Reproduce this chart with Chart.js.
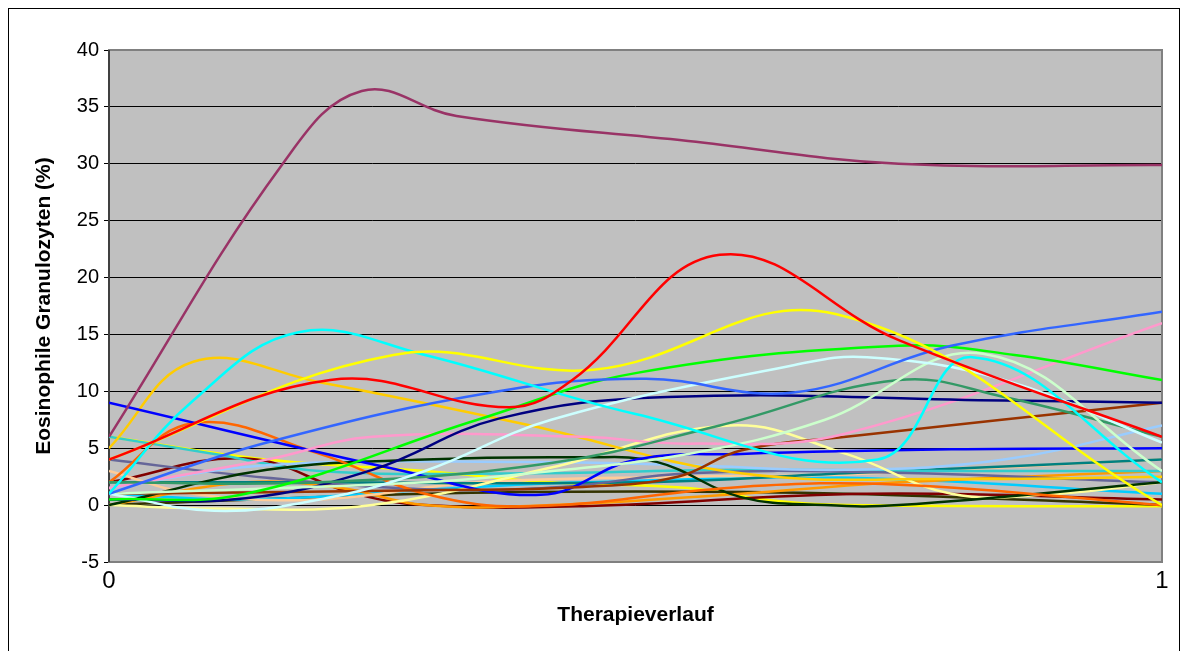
<!DOCTYPE html>
<html lang="de">
<head>
  <meta charset="UTF-8">
  <title>Eosinophile Granulozyten</title>
  <script src="https://cdn.jsdelivr.net/npm/chart.js"></script>
  <style>
    body { margin: 0; background: #fff; }
    canvas { display: block; }
  </style>
</head>
<body>
  <canvas id="eoChart" width="1188" height="651"></canvas>

  <script>
    // axis
    const xTicks = [0, 1];
    const yMin = -5, yMax = 40, yStep = 5;

    // series: relative therapy position (x) and eosinophils in % (y)
    const purpleX = [0, 0.165, 0.24, 0.33, 0.55, 0.75, 1];
    const purpleY = [6, 30, 36.4, 34.2, 32, 30, 29.9];
    const redX = [0, 0.21, 0.38, 0.44, 0.58, 0.75, 1];
    const redY = [4, 11, 8.6, 11, 22, 14.5, 6];
    const yellowX = [0, 0.27, 0.46, 0.69, 1];
    const yellowY = [4, 13.2, 11.9, 16.8, 0];
    const cyanX = [0, 0.08, 0.18, 0.3, 0.5, 0.73, 0.82, 1];
    const cyanY = [1, 9.2, 15.2, 13.2, 8, 4, 13, 2];
    const greenX = [0, 0.13, 0.35, 0.5, 0.75, 0.86, 1];
    const greenY = [0.5, 1, 7.5, 11.6, 14, 13.2, 11];
    const royalX = [0, 0.15, 0.37, 0.51, 0.65, 0.8, 1];
    const royalY = [1, 5.5, 10, 11.1, 9.9, 14, 17];
    const navyX = [0, 0.13, 0.25, 0.37, 0.53, 0.85, 1];
    const navyY = [0.5, 0.6, 3.1, 7.6, 9.5, 9.2, 9];
    const blueX = [0, 0.27, 0.41, 0.5, 0.6, 0.8, 1];
    const blueY = [9, 3.2, 0.9, 4, 4.5, 4.9, 5];
    const darkOrangeX = [0, 0.08, 0.2, 0.3, 0.4, 0.6, 0.75, 1];
    const darkOrangeY = [2, 7.2, 4.5, 1, -0.1, 1.6, 1.8, 0];
    const goldX = [0, 0.08, 0.2, 0.4, 0.6, 0.8, 1];
    const goldY = [5, 12.6, 10.8, 7, 2.8, 2.3, 2.5];
    const lightCyanX = [0, 0.1, 0.2, 0.3, 0.42, 0.65, 0.72, 0.85, 1];
    const lightCyanY = [1, -0.5, 0.5, 3, 7.5, 12.3, 13, 11, 5.5];
    const paleGreenX = [0, 0.3, 0.4, 0.55, 0.68, 0.83, 1];
    const paleGreenY = [1, 2, 2.8, 4.5, 7.5, 13.3, 3];
    const seaGreenX = [0, 0.2, 0.42, 0.58, 0.75, 0.85, 1];
    const seaGreenY = [2, 2, 3.7, 7, 11, 9.5, 6];
    const pinkX = [0, 0.15, 0.25, 0.45, 0.55, 0.7, 1];
    const pinkY = [1.5, 4, 6, 6, 5.4, 6.3, 16];
    const brownX = [0, 0.3, 0.45, 0.54, 0.6, 0.7, 1];
    const brownY = [1, 1.3, 1.6, 2.5, 4.8, 6, 9];
    const maroonX = [0, 0.13, 0.23, 0.3, 0.45, 0.72, 1];
    const maroonY = [2, 4.1, 1.1, 0, -0.1, 1, 0.5];
    const darkGreenX = [0, 0.15, 0.3, 0.45, 0.52, 0.6, 0.68, 0.75, 1];
    const darkGreenY = [0, 3.1, 4, 4.2, 3.8, 0.7, 0, 0, 2];
    const oliveX = [0, 0.3, 0.5, 0.7, 1];
    const oliveY = [0, 1, 1.2, 1, 0];
    const slateX = [0, 0.15, 0.3, 0.43, 0.55, 0.72, 1];
    const slateY = [4, 2.4, 1.4, 1.6, 2.8, 2.9, 2];
    const lightBlueX = [0, 0.15, 0.4, 0.55, 0.7, 0.85, 1];
    const lightBlueY = [1.5, 3.5, 3.8, 3.5, 3.1, 4, 7];
    const tealX = [0, 0.2, 0.5, 0.7, 1];
    const tealY = [2, 2, 2, 2.8, 4];
    const turquoiseX = [0, 0.1, 0.2, 0.4, 0.6, 0.8, 1];
    const turquoiseY = [6, 4.5, 3, 2.8, 3.1, 3, 3];
    const skyX = [0, 0.13, 0.33, 0.45, 0.7, 1];
    const skyY = [1, 0.5, 1.5, 2, 2.4, 1];
    const peachX = [0, 0.08, 0.2, 0.35, 0.55, 0.7, 1];
    const peachY = [3, 1, 0.5, 2, 2.5, 2.7, 4];
    const orangeX = [0, 0.13, 0.22, 0.3, 0.42, 0.6, 0.75, 1];
    const orangeY = [0, 2, 1.5, 0, 0, 1, 2, 3];
    const paleYellowX = [0, 0.1, 0.25, 0.42, 0.59, 0.7, 0.8, 0.9, 1];
    const paleYellowY = [0, -0.3, 0, 3.3, 7, 4.5, 1, 1, 2];
    const yellow2X = [0, 0.15, 0.3, 0.42, 0.55, 0.63, 0.7, 1];
    const yellow2Y = [6, 4, 3, 2, 1.5, 0.4, 0, -0.1];

    const series = [
      [purpleX, purpleY, '#993366'],
      [redX, redY, '#FF0000'],
      [yellowX, yellowY, '#FFFF00'],
      [cyanX, cyanY, '#00FFFF'],
      [royalX, royalY, '#3366FF'],
      [greenX, greenY, '#00FF00'],
      [lightCyanX, lightCyanY, '#CCFFFF'],
      [paleGreenX, paleGreenY, '#CCFFCC'],
      [seaGreenX, seaGreenY, '#339966'],
      [navyX, navyY, '#000080'],
      [pinkX, pinkY, '#FF99CC'],
      [brownX, brownY, '#993300'],
      [blueX, blueY, '#0000FF'],
      [goldX, goldY, '#FFCC00'],
      [darkOrangeX, darkOrangeY, '#FF6600'],
      [darkGreenX, darkGreenY, '#003300'],
      [paleYellowX, paleYellowY, '#FFFF99'],
      [lightBlueX, lightBlueY, '#99CCFF'],
      [slateX, slateY, '#666699'],
      [turquoiseX, turquoiseY, '#33CCCC'],
      [tealX, tealY, '#008080'],
      [peachX, peachY, '#FFCC99'],
      [orangeX, orangeY, '#FF9900'],
      [skyX, skyY, '#00CCFF'],
      [maroonX, maroonY, '#800000'],
      [oliveX, oliveY, '#333300'],
      [yellow2X, yellow2Y, '#FFFF00']
    ];

    const datasets = series.map(([xs, ys, color]) => ({
      data: xs.map((x, i) => ({ x: x, y: ys[i] })),
      borderColor: color,
      borderWidth: 2.5,
      showLine: true,
      pointRadius: 0,
      tension: 0.4,
      fill: false
    }));

    // grey plot area, plot frame and outer chart frame
    const frame = {
      id: 'frame',
      beforeDraw(chart) {
        const { ctx, chartArea: a } = chart;
        ctx.save();
        ctx.fillStyle = '#C0C0C0';
        ctx.fillRect(a.left, a.top, a.right - a.left, a.bottom - a.top);
        ctx.strokeStyle = '#000';
        ctx.lineWidth = 1;
        ctx.strokeRect(8.5, 8.5, 1171, 700);
        ctx.restore();
      },
      beforeDatasetsDraw(chart) {
        const { ctx, chartArea: a } = chart;
        ctx.save();
        ctx.strokeStyle = '#808080';
        ctx.lineWidth = 2;
        ctx.strokeRect(a.left, a.top, a.right - a.left, a.bottom - a.top);
        ctx.strokeStyle = '#404040';
        ctx.beginPath();
        ctx.moveTo(a.left, a.top);
        ctx.lineTo(a.left, a.bottom);
        ctx.stroke();
        ctx.restore();
      }
    };

    const ctx = document.getElementById('eoChart').getContext('2d');
    new Chart(ctx, {
      type: 'scatter',
      data: { datasets: datasets },
      options: {
        responsive: false,
        animation: false,
        layout: { padding: { top: 50, right: 26, bottom: 0, left: 0 } },
        plugins: { legend: { display: false }, tooltip: { enabled: false } },
        scales: {
          x: {
            type: 'linear',
            min: xTicks[0],
            max: xTicks[xTicks.length - 1],
            afterBuildTicks: s => { s.ticks = xTicks.map(v => ({ value: v })); },
            grid: { display: false },
            border: { display: false },
            ticks: {
              color: '#000',
              padding: -3,
              font: { family: 'Liberation Sans, Arial', size: 24 }
            },
            title: {
              display: true,
              text: 'Therapieverlauf',
              color: '#000',
              padding: { top: 0, bottom: 23 },
              font: { family: 'Liberation Sans, Arial', size: 21, weight: 'bold' }
            },
            afterFit: s => { s.height = 89; }
          },
          y: {
            min: yMin,
            max: yMax,
            ticks: {
              stepSize: yStep,
              color: '#000',
              padding: 5,
              font: { family: 'Liberation Sans, Arial', size: 20 }
            },
            grid: {
              color: c => (c.tick && (c.tick.value === yMin || c.tick.value === yMax)) ? 'rgba(0,0,0,0)' : '#000',
              tickColor: '#000',
              tickLength: 5,
              lineWidth: 1
            },
            border: { display: false },
            title: {
              display: true,
              text: 'Eosinophile Granulozyten (%)',
              color: '#000',
              padding: { top: 32, bottom: 0 },
              font: { family: 'Liberation Sans, Arial', size: 21, weight: 'bold' }
            },
            afterFit: s => { s.width = 109; }
          }
        }
      },
      plugins: [frame]
    });
  </script>
</body>
</html>
